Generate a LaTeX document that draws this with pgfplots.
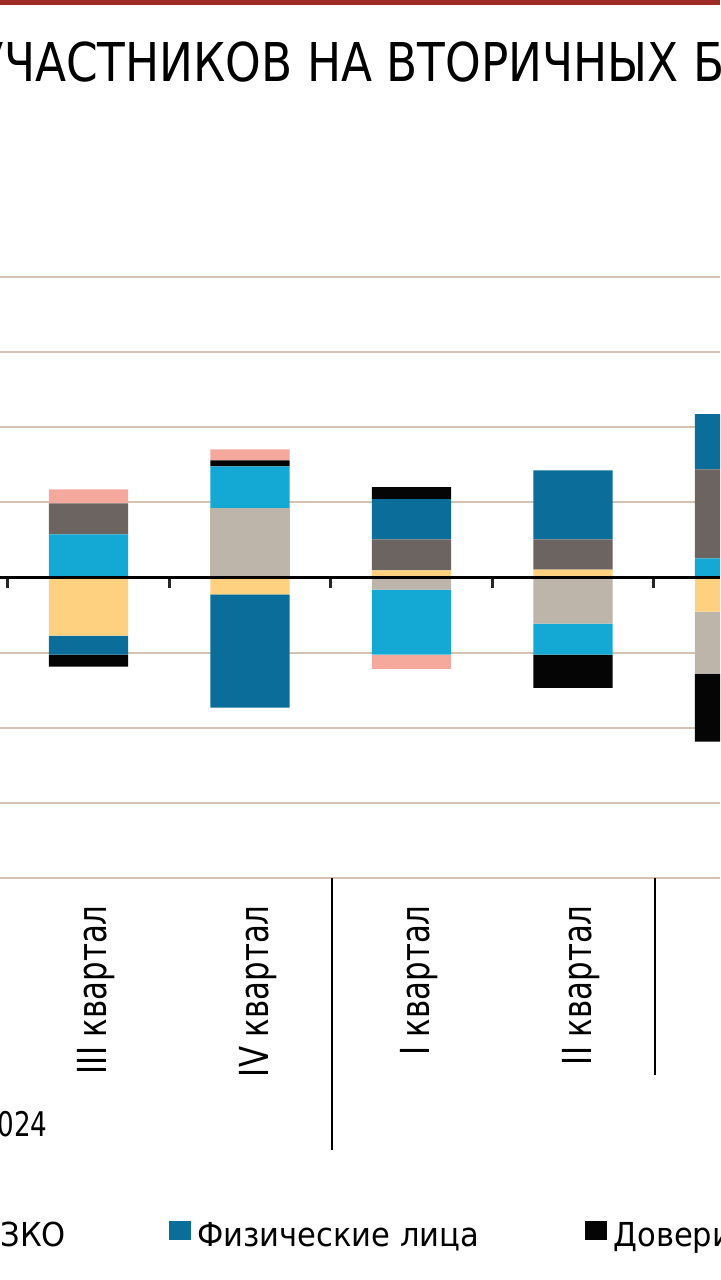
\documentclass[border=0pt]{standalone}
\usepackage{fontspec}
\setmainfont{DejaVu Sans}
\newfontfamily\titlefam[FakeStretch=0.848]{DejaVu Sans}
\newfontfamily\lblfam[FakeStretch=0.77]{DejaVu Sans}
\newfontfamily\legfam[FakeStretch=0.927]{DejaVu Sans}
\usepackage{pgfplots}
\usepackage{pgfplotstable}
\pgfplotsset{compat=1.18}

\definecolor{cY}{HTML}{FDD17F}
\definecolor{cT}{HTML}{BDB4AA}
\definecolor{cC}{HTML}{14A8D4}
\definecolor{cG}{HTML}{6C6460}
\definecolor{cB}{HTML}{0B6E9A}
\definecolor{cK}{HTML}{050505}
\definecolor{cP}{HTML}{F5A99C}
\definecolor{cgrid}{HTML}{D6C2B2}
\definecolor{cred}{HTML}{9E2B25}

% positive parts (stacked upward)
\pgfplotstableread{
x Y T C G B K P
2 0 0 28.7 20.7 0 0 9.3
3 0 46 28 0 0 4 7.3
4 4.7 0 0 20.7 26.7 8 0
5 5.3 0 0 20 46 0 0
6 0 0 12.7 59.3 36.7 0 0
}\pos
% negative parts (stacked downward)
\pgfplotstableread{
x Y T C G B K P
2 -38.7 0 0 0 -12.7 -8 0
3 -11.3 0 0 0 -75.3 0 0
4 0 -8 -43.3 0 0 0 -9.3
5 0 -30.7 -20.7 0 0 -22 0
6 -22.7 -41.3 0 0 0 -45.3 0
}\negv

\pgfplotsset{
  common/.style={
    at={(0pt,201pt)}, anchor=south west,
    width=360pt, height=300.5pt, scale only axis,
    xmin=1.452, xmax=5.910, ymin=-200, ymax=200,
  },
  bars/.style={
    ybar stacked, bar width=0.49,
    every axis plot/.append style={draw=none},
  },
}

\begin{document}
\begin{tikzpicture}
\useasboundingbox (0,0) rectangle (360pt,640pt);
\clip (0,0) rectangle (360pt,640pt);
\fill[cred] (0,637.5pt) rectangle (360pt,640pt);
\node[anchor=base west, inner sep=0pt, font=\fontsize{26.75pt}{30pt}\titlefam] at (-12pt,599pt) {УЧАСТНИКОВ НА ВТОРИЧНЫХ БИ};

\begin{axis}[
  common, bars,
  axis line style={draw=none},
  ytick={-200,-150,...,200}, yticklabels={},
  ymajorgrids, grid style={cgrid, line width=1pt},
  xtick={2,3,4,5,6},
  xticklabels={III квартал, IV квартал, I квартал, II квартал, {}},
  major tick length=0pt,
  xtick pos=bottom,
  xticklabel style={yshift=-13.5pt, xshift=4pt, rotate=90, anchor=east, inner sep=0pt, font=\fontsize{20pt}{24pt}\lblfam},
  legend columns=-1,
  legend image code/.code={\fill[#1] (0pt,-2pt) rectangle (11pt,7.5pt);},
  legend style={at={(-0.0472,-0.5957)}, anchor=west, draw=none, fill=none,
    font=\fontsize{16.5pt}{19pt}\legfam,
    /tikz/every odd column/.append style={column sep=1pt},
    /tikz/every even column/.append style={column sep=0pt}},
]
\addplot[fill=cY, forget plot] table[x=x,y=Y] {\pos};
\addplot[fill=cT, forget plot] table[x=x,y=T] {\pos};
\addplot[fill=cC, forget plot] table[x=x,y=C] {\pos};
\addplot[fill=cG, forget plot] table[x=x,y=G] {\pos};
\addplot[fill=cB, forget plot] table[x=x,y=B] {\pos};
\addplot[fill=cK, forget plot] table[x=x,y=K] {\pos};
\addplot[fill=cP, forget plot] table[x=x,y=P] {\pos};
\addlegendimage{fill=cG, draw=none}
\addlegendentry{\makebox[82.5pt][l]{ЗКО}}
\addlegendimage{fill=cB, draw=none}
\addlegendentry{\makebox[192pt][l]{Физические лица}}
\addlegendimage{fill=cK, draw=none}
\addlegendentry{Доверительные управляющие}
\end{axis}

\begin{axis}[
  common, bars,
  hide axis,
]
\addplot[fill=cY] table[x=x,y=Y] {\negv};
\addplot[fill=cT] table[x=x,y=T] {\negv};
\addplot[fill=cC] table[x=x,y=C] {\negv};
\addplot[fill=cG] table[x=x,y=G] {\negv};
\addplot[fill=cB] table[x=x,y=B] {\negv};
\addplot[fill=cK] table[x=x,y=K] {\negv};
\addplot[fill=cP] table[x=x,y=P] {\negv};
\end{axis}

\begin{axis}[
  common,
  axis x line=middle, axis y line=none,
  x axis line style={-, line width=1.8pt, black},
  xtick={1.5,2.5,3.5,4.5,5.5}, xticklabels={},
  xtick align=outside, major tick length=5.5pt,
  xtick style={line width=1.5pt, black!85},
  ytick=\empty,
]
\end{axis}

\draw[line width=1pt, black] (166pt,201pt) -- (166pt,65pt);
\draw[line width=1pt, black] (327.5pt,201pt) -- (327.5pt,102.5pt);
\node[anchor=base east, inner sep=0pt, font=\fontsize{17pt}{20pt}\lblfam] at (24pt,71.5pt) {2024};
\end{tikzpicture}
\end{document}
